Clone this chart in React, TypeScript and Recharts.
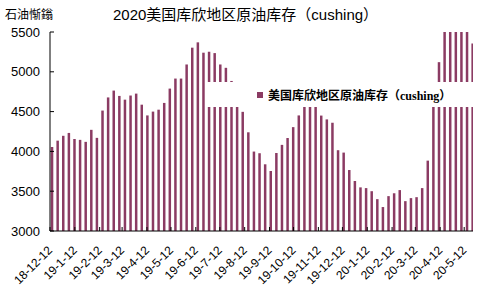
import { BarChart, Bar, XAxis, YAxis, Legend } from "recharts";

// weekly Cushing stocks, first report 2018-12-14
const firstReport = "2018-12-14";
const stocks = [
  4055, 4135, 4196, 4232, 4156, 4145, 4120, 4271, 4170, 4513,
  4678, 4764, 4697, 4650, 4702, 4726, 4587, 4452, 4500, 4524,
  4609, 4789, 4915, 4915, 5092, 5303, 5370, 5240, 5252, 5235,
  5092, 5050, 4885, 4700, 4497, 4240, 3998, 3977, 3838, 3754,
  3980, 4082, 4168, 4305, 4452, 4600, 4620, 4590, 4450, 4402,
  4360, 4015, 3985, 3766, 3628, 3548, 3539, 3500, 3400, 3301,
  3438, 3474, 3514, 3375, 3413, 3425, 3539, 3884, 4600, 5121,
  5500, 5500, 5500, 5500, 5500, 5357,
];
const monthTicks = [
  "18-12-12", "19-1-12", "19-2-12", "19-3-12", "19-4-12", "19-5-12",
  "19-6-12", "19-7-12", "19-8-12", "19-9-12", "19-10-12", "19-11-12",
  "19-12-12", "20-1-12", "20-2-12", "20-3-12", "20-4-12", "20-5-12",
];
const yTicks = [3000, 3500, 4000, 4500, 5000, 5500];
const seriesName = "美国库欣地区原油库存（cushing）";

const DAY = 86400000;
const origin = Date.UTC(2018, 11, 12);
const dayOf = (label: string) => {
  const [yy, m, d] = label.split("-").map(Number);
  return Math.round((Date.UTC(2000 + yy, m - 1, d) - origin) / DAY);
};
const firstDay = Math.round((Date.parse(firstReport) - origin) / DAY);
const data = stocks.map((v, i) => ({ day: firstDay + i * 7, value: v }));
const tickDays = monthTicks.map(dayOf);
const labelByDay: Record<number, string> = {};
monthTicks.forEach((l, i) => (labelByDay[tickDays[i]] = l));

const DateTick = (props: any) => {
  const { x, y, payload } = props;
  const ax = x + 3;
  const ay = y + 22;
  return (
    <text
      x={ax}
      y={ay}
      transform={`rotate(-45, ${ax}, ${ay})`}
      textAnchor="end"
      fontSize={12}
      fill="#000"
      fontFamily="'Liberation Sans', Arial, sans-serif"
    >
      {labelByDay[payload.value]}
    </text>
  );
};

const LegendBox = () => (
  <div
    style={{
      width: "100%",
      height: "100%",
      background: "#fff",
      display: "flex",
      alignItems: "center",
      paddingLeft: 51,
      boxSizing: "border-box",
    }}
  >
    <span style={{ width: 6, height: 6, background: "#8B3B63", marginRight: 5, display: "inline-block" }} />
    <span
      style={{
        fontSize: 12,
        fontWeight: "bold",
        fontFamily: "'Liberation Serif', 'Noto Sans CJK SC', serif",
        color: "#000",
        whiteSpace: "nowrap",
      }}
    >
      {seriesName}
    </span>
  </div>
);

export default function App() {
  return (
    <div
      style={{
        position: "absolute",
        left: 0,
        top: 0,
        width: 488,
        height: 299,
        background: "#fff",
        fontFamily: "'Liberation Sans', 'Noto Sans CJK SC', sans-serif",
      }}
    >
      <div style={{ position: "absolute", left: 5, top: 5, fontSize: 12, color: "#000" }}>石油惭鎓</div>
      <div style={{ position: "absolute", left: 113, top: 3, fontSize: 15, color: "#000", whiteSpace: "nowrap" }}>
        2020美国库欣地区原油库存（cushing）
      </div>
      <BarChart
        width={488}
        height={299}
        data={data}
        margin={{ top: 32, right: 15, left: 0, bottom: 0 }}
      >
        <XAxis
          dataKey="day"
          type="number"
          domain={[0, 528]}
          ticks={tickDays}
          interval={0}
          allowDataOverflow
          height={68}
          axisLine={{ stroke: "#000" }}
          tickLine={{ stroke: "#000" }}
          tickSize={-4}
          tick={<DateTick />}
        />
        <YAxis
          domain={[3000, 5500]}
          ticks={yTicks}
          interval={0}
          allowDataOverflow
          width={50}
          axisLine={{ stroke: "#000" }}
          tickLine={{ stroke: "#000" }}
          tickSize={-4}
          tickMargin={14}
          tick={{ fontSize: 13, fill: "#000" }}
        />
        <Legend
          layout="horizontal"
          verticalAlign="middle"
          align="center"
          content={<LegendBox />}
          wrapperStyle={{ position: "absolute", left: 206, top: 82, width: 270, height: 25 }}
        />
        <Bar dataKey="value" name={seriesName} fill="#8B3B63" barSize={2.5} isAnimationActive={false} />
      </BarChart>
    </div>
  );
}
